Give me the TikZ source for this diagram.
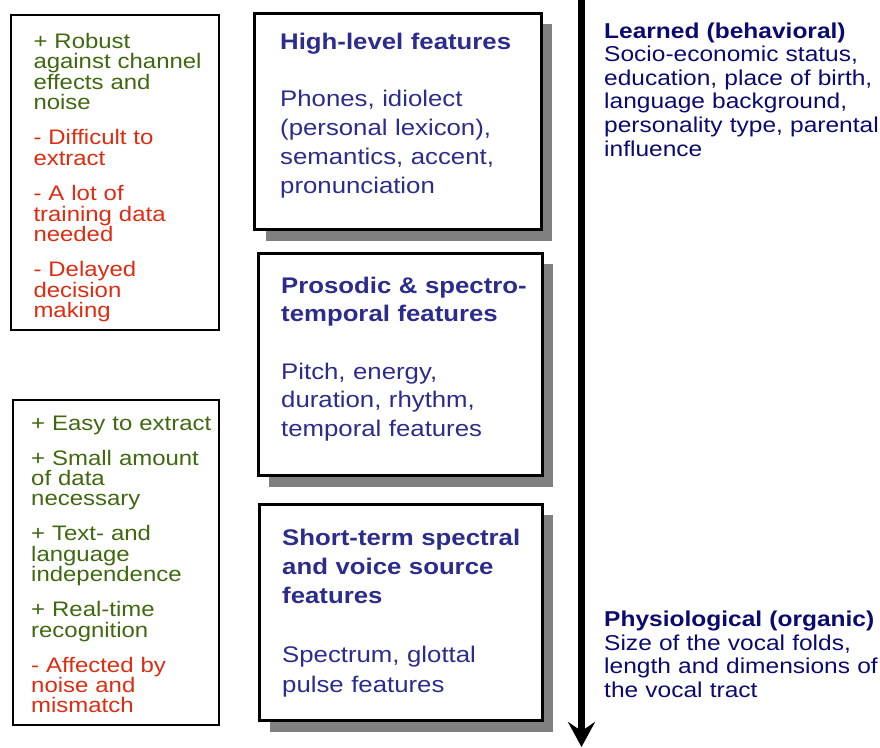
\documentclass[tikz,border=0pt]{standalone}
\usepackage{fontspec}
\setmainfont{Liberation Sans}[FakeStretch=1.14]
\usetikzlibrary{arrows.meta,shadows}

\definecolor{featblue}{RGB}{44,44,140}
\definecolor{navytext}{RGB}{10,10,112}
\definecolor{progreen}{RGB}{64,104,16}
\definecolor{conred}{RGB}{220,44,18}
\definecolor{shadowgray}{RGB}{128,128,128}

\newcommand{\featfont}{\fontsize{22.6pt}{28.6pt}\selectfont}
\newcommand{\featfonta}{\fontsize{22.6pt}{29.2pt}\selectfont}
\newcommand{\featfontc}{\fontsize{22.6pt}{29.4pt}\selectfont}
\newcommand{\listfont}{\fontsize{21pt}{20.4pt}\selectfont}
\newcommand{\sidefont}{\fontsize{21.5pt}{23.6pt}\selectfont}
\newcommand{\pro}{\color{progreen}}
\newcommand{\con}{\color{conred}}

\begin{document}
\begin{tikzpicture}[x=1pt,y=-1pt,
  featbox/.style={draw=black,line width=3pt,fill=white,
    drop shadow={shadow xshift=11pt,shadow yshift=-11pt,fill=shadowgray,opacity=1}},
  listbox/.style={draw=black,line width=2pt,fill=white},
  feattext/.style={anchor=base west,inner sep=0pt,text width=270pt,align=left,
    text=featblue},
  listtext/.style={anchor=base west,inner sep=0pt,text width=200pt,align=left},
  sidetext/.style={anchor=base west,inner sep=0pt,text width=280pt,align=left,
    text=navytext},
  timeline/.style={line width=7pt,-{Stealth[length=25pt,width=27pt,inset=9pt]}}]
\useasboundingbox (0,0) rectangle (880,747);

% pros and cons
\node[listbox,minimum width=207.5pt,minimum height=315.5pt] (cons1) at (114.75,172.25) {};
\node[listbox,minimum width=206.3pt,minimum height=325pt] (cons2) at (115.85,562.5) {};

\node[listtext,font=\listfont] (hightxt) at (33.3,48.3) {%
  \pro + Robust\\against channel\\effects and\\noise\\[15pt]
  \con - Difficult to\\extract\\[15pt]
  - A lot of\\training data\\needed\\[15pt]
  - Delayed\\decision\\making};

\node[listtext,font=\listfont] (lowtxt) at (31,430) {%
  \pro + Easy to extract\\[14.6pt]
  + Small amount\\of data\\necessary\\[14.6pt]
  + Text- and\\language\\independence\\[14.6pt]
  + Real-time\\recognition\\[14.6pt]
  \con - Affected by\\noise and\\mismatch};

% feature levels
\node[featbox,minimum width=286.5pt,minimum height=216.5pt] (high) at (397.75,121.25) {};
\node[featbox,minimum width=284pt,minimum height=222.5pt] (pros) at (400,364.25) {};
\node[featbox,minimum width=283pt,minimum height=216.5pt] (short) at (400.5,612.25) {};

\node[feattext,font=\featfonta] (hightext) at (280,49.5) {%
  \textbf{High-level features}\\[27.4pt]
  Phones, idiolect\\(personal lexicon),\\semantics, accent,\\pronunciation};
\node[feattext,font=\featfont] (prostext) at (281,293.3) {%
  \textbf{Prosodic \& spectro-}\\\textbf{temporal features}\\[28.6pt]
  Pitch, energy,\\duration, rhythm,\\temporal features};
\node[feattext,font=\featfontc] (shorttext) at (282,545) {%
  \textbf{Short-term spectral}\\\textbf{and voice source}\\\textbf{features}\\[29.4pt]
  Spectrum, glottal\\pulse features};

% learned to physiological axis
\coordinate (axtop) at (581.5,-5);
\coordinate (axbot) at (581.5,747);
\draw[timeline] (axtop) -- (axbot);

\node[sidetext,font=\sidefont] (learned) at (604,38) {%
  \textbf{Learned (behavioral)}\\Socio-economic status,\\education, place of birth,\\
  language background,\\personality type, parental\\influence};
\node[sidetext,font=\sidefont] (organic) at (604,626.7) {%
  \textbf{Physiological (organic)}\\Size of the vocal folds,\\length and dimensions of\\the vocal tract};
\end{tikzpicture}
\end{document}
